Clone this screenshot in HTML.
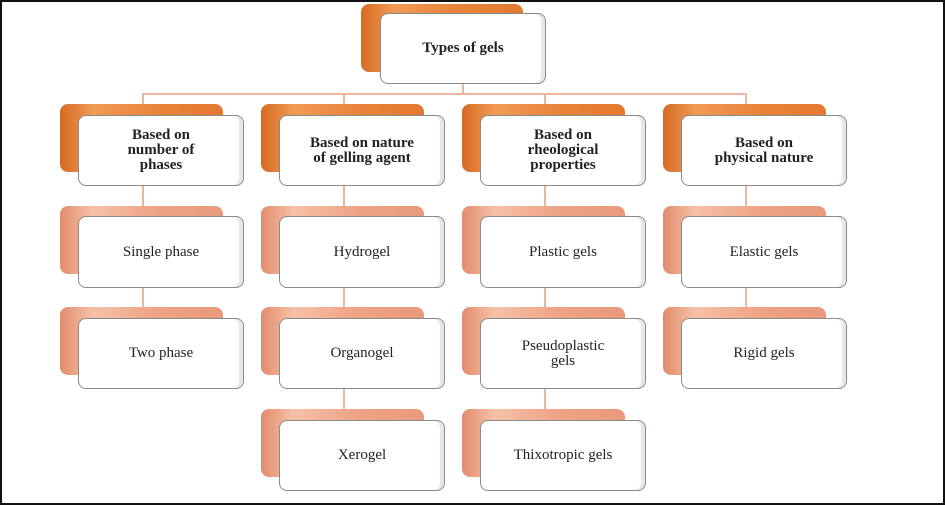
<!DOCTYPE html>
<html><head><style>
body{margin:0;width:945px;height:505px;background:#fff;position:relative;overflow:hidden;font-family:"Liberation Serif",serif}
.frame{position:absolute;left:0;top:0;width:941px;height:501px;border:2px solid #111}
.b{position:absolute;border-radius:8px}
.dk{background:linear-gradient(90deg,#d66a22,#f09a55 20%,#e9823a 60%,#e47a30);}
.lt{background:linear-gradient(90deg,#e28c6c,#f6c1a8 20%,#eea284 60%,#e99a7c);}
.f{position:absolute;background:#fff;border:1.5px solid #8a8a8a;border-radius:8px;display:flex;align-items:center;justify-content:center;text-align:center;font-size:15px;color:#222;line-height:15px;box-shadow:inset -4px 0 0 #e4e8ee}
.bold{font-weight:bold}
.l{position:absolute;background:#e8b89c}
</style></head><body>
<div class="frame"></div>
<div class="l" style="left:142px;top:93px;width:604px;height:2px"></div>
<div class="l" style="left:462px;top:83px;width:2px;height:11px"></div>
<div class="l" style="left:142px;top:93px;width:2px;height:130px"></div>
<div class="l" style="left:142px;top:280px;width:2px;height:40px"></div>
<div class="l" style="left:343px;top:93px;width:2px;height:330px"></div>
<div class="l" style="left:544px;top:93px;width:2px;height:330px"></div>
<div class="l" style="left:745px;top:93px;width:2px;height:230px"></div>

<div class="b dk" style="left:361px;top:4px;width:162px;height:68px"></div>
<div class="f bold" style="left:380px;top:13px;width:164px;height:69px">Types of gels</div>

<div class="b dk" style="left:60px;top:104px;width:163px;height:68px"></div>
<div class="f bold" style="left:78px;top:115px;width:164px;height:69px">Based on<br>number of<br>phases</div>
<div class="b dk" style="left:261px;top:104px;width:163px;height:68px"></div>
<div class="f bold" style="left:279px;top:115px;width:164px;height:69px">Based on nature<br>of gelling agent</div>
<div class="b dk" style="left:462px;top:104px;width:163px;height:68px"></div>
<div class="f bold" style="left:480px;top:115px;width:164px;height:69px">Based on<br>rheological<br>properties</div>
<div class="b dk" style="left:663px;top:104px;width:163px;height:68px"></div>
<div class="f bold" style="left:681px;top:115px;width:164px;height:69px">Based on<br>physical nature</div>

<div class="b lt" style="left:60px;top:206px;width:163px;height:68px"></div>
<div class="f" style="left:78px;top:216px;width:164px;height:70px">Single phase</div>
<div class="b lt" style="left:60px;top:307px;width:163px;height:68px"></div>
<div class="f" style="left:78px;top:318px;width:164px;height:69px">Two phase</div>

<div class="b lt" style="left:261px;top:206px;width:163px;height:68px"></div>
<div class="f" style="left:279px;top:216px;width:164px;height:70px">Hydrogel</div>
<div class="b lt" style="left:261px;top:307px;width:163px;height:68px"></div>
<div class="f" style="left:279px;top:318px;width:164px;height:69px">Organogel</div>
<div class="b lt" style="left:261px;top:409px;width:163px;height:68px"></div>
<div class="f" style="left:279px;top:420px;width:164px;height:69px">Xerogel</div>

<div class="b lt" style="left:462px;top:206px;width:163px;height:68px"></div>
<div class="f" style="left:480px;top:216px;width:164px;height:70px">Plastic gels</div>
<div class="b lt" style="left:462px;top:307px;width:163px;height:68px"></div>
<div class="f" style="left:480px;top:318px;width:164px;height:69px">Pseudoplastic<br>gels</div>
<div class="b lt" style="left:462px;top:409px;width:163px;height:68px"></div>
<div class="f" style="left:480px;top:420px;width:164px;height:69px">Thixotropic gels</div>

<div class="b lt" style="left:663px;top:206px;width:163px;height:68px"></div>
<div class="f" style="left:681px;top:216px;width:164px;height:70px">Elastic gels</div>
<div class="b lt" style="left:663px;top:307px;width:163px;height:68px"></div>
<div class="f" style="left:681px;top:318px;width:164px;height:69px">Rigid gels</div>
</body></html>
